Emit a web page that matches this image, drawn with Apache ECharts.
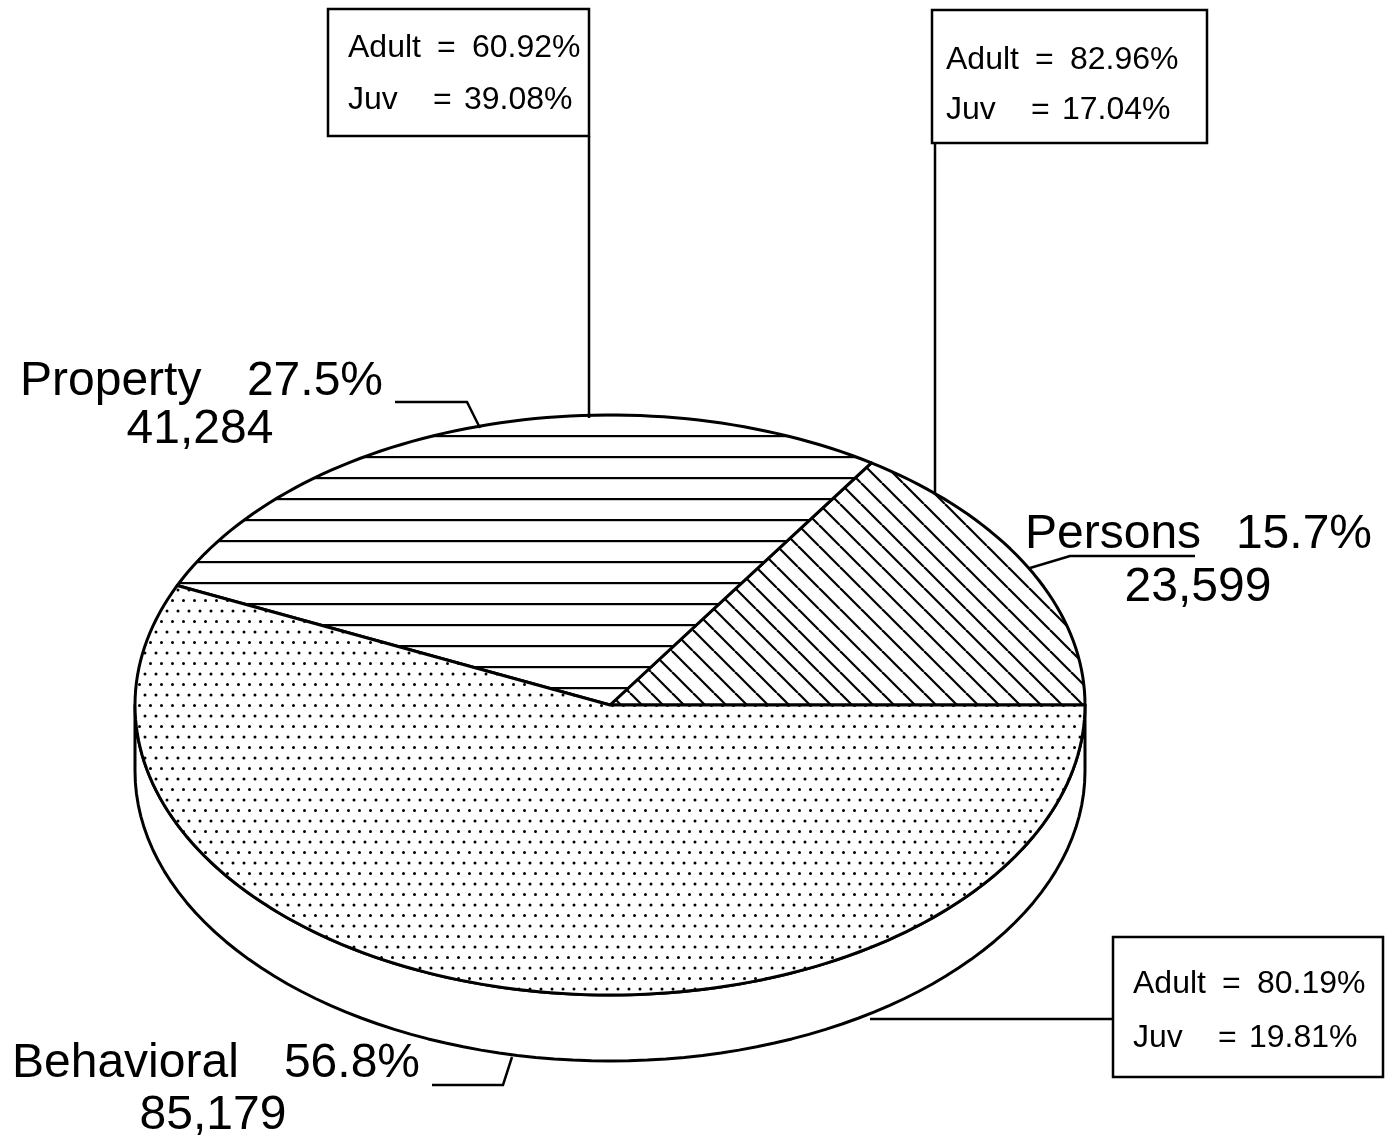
<!DOCTYPE html>
<html>
<head>
<meta charset="utf-8">
<script src="https://cdn.jsdelivr.net/npm/echarts@6/dist/echarts.min.js"></script>
<style>
html, body { margin: 0; padding: 0; background: #fff; }
#chart { width: 1389px; height: 1137px; }
</style>
</head>
<body>
<div id="chart"></div>
<script>
// 数据
var categories = ['Persons', 'Property', 'Behavioral'];
var counts = [23599, 41284, 85179];
var adultPct = [82.96, 60.92, 80.19];
var juvPct = [17.04, 39.08, 19.81];

// 椭圆饼图的位置 (像素 = 坐标轴单位)
var CX = 610, CY = 705, RX = 475, RY = 290, DEPTH = 66;
var FONT = '"Liberation Sans", Arial, Helvetica, sans-serif';

var total = counts.reduce(function (a, b) { return a + b; }, 0);

// 填充图案
var makeTile = function (w, h, draw) {
    var c = document.createElement('canvas');
    c.width = w;
    c.height = h;
    var ctx = c.getContext('2d');
    ctx.fillStyle = '#fff';
    ctx.fillRect(0, 0, w, h);
    ctx.fillStyle = '#000';
    ctx.strokeStyle = '#000';
    draw(ctx);
    return c;
};
var diagTile = makeTile(21, 21, function (ctx) {
    ctx.lineWidth = 2.2;
    for (var k = -1; k <= 1; k++) {
        ctx.beginPath();
        ctx.moveTo(k * 21, 0);
        ctx.lineTo(k * 21 + 21, 21);
        ctx.stroke();
    }
});
var lineTile = makeTile(8, 21, function (ctx) {
    ctx.fillRect(0, 15, 8, 2.2);
});
var dotTile = makeTile(11, 21, function (ctx) {
    ctx.beginPath();
    ctx.arc(2, 2, 1.5, 0, Math.PI * 2);
    ctx.arc(7.5, 12.5, 1.5, 0, Math.PI * 2);
    ctx.fill();
});
var fills = [diagTile, lineTile, dotTile];

// 标签和注释框的位置
var labelLayout = [
    {nameX: 1025, pctRight: 1372, y: 548, countX: 1198, countY: 601},
    {nameX: 20, pctRight: 383, y: 395, countX: 200, countY: 443},
    {nameX: 12, pctRight: 420, y: 1077, countX: 213, countY: 1129}
];
var boxLayout = [
    {x: 932, y: 10, w: 275, h: 133, tx: 946, y1: 67, y2: 117, line: [[935, 143], [935, 495]]},
    {x: 328, y: 9, w: 261, h: 127, tx: 348, y1: 55, y2: 107, line: [[589, 136], [589, 418]]},
    {x: 1113, y: 937, w: 270, h: 140, tx: 1133, y1: 991, y2: 1045, line: [[1113, 1019], [870, 1019]]}
];
var leaderLines = [
    [[1030, 568], [1070, 556], [1195, 556]],
    [[395, 402], [467, 402], [480, 428]],
    [[432, 1085], [503, 1085], [512, 1057]]
];

var ellipsePt = function (t, dy) {
    return [CX + RX * Math.cos(t), CY + dy - RY * Math.sin(t)];
};

var renderSlice = function (params, api) {
    var i = params.dataIndex;
    var before = 0;
    for (var j = 0; j < i; j++) before += counts[j];
    var a0 = before / total * Math.PI * 2;
    var a1 = (before + api.value(2)) / total * Math.PI * 2;
    var children = [];
    var n, k, t;

    // 前面的侧壁
    var w0 = Math.max(a0, Math.PI), w1 = a1;
    if (w1 > w0) {
        var side = [];
        n = 80;
        for (k = 0; k <= n; k++) {
            t = w0 + (w1 - w0) * k / n;
            side.push(api.coord(ellipsePt(t, 0)));
        }
        for (k = n; k >= 0; k--) {
            t = w0 + (w1 - w0) * k / n;
            side.push(api.coord(ellipsePt(t, DEPTH)));
        }
        children.push({
            type: 'polygon',
            shape: {points: side},
            style: {fill: '#fff', stroke: '#000', lineWidth: 3, lineJoin: 'round'}
        });
    }

    // 顶面
    var top = [api.coord([api.value(0), api.value(1)])];
    n = Math.max(8, Math.ceil((a1 - a0) * 40));
    for (k = 0; k <= n; k++) {
        t = a0 + (a1 - a0) * k / n;
        top.push(api.coord(ellipsePt(t, 0)));
    }
    children.push({
        type: 'polygon',
        shape: {points: top},
        style: {fill: {image: fills[i], repeat: 'repeat'}, stroke: '#000', lineWidth: 3, lineJoin: 'round'}
    });
    return {type: 'group', children: children};
};

var textEl = function (str, x, baseline, size, align) {
    return {
        type: 'text',
        style: {
            text: str,
            x: x,
            y: baseline - size * 0.35 + 4,
            font: size + 'px ' + FONT,
            fill: '#000',
            align: align || 'left',
            verticalAlign: 'middle'
        },
        z: 10
    };
};

var graphics = [];
categories.forEach(function (name, i) {
    var L = labelLayout[i];
    var pct = (counts[i] / total * 100).toFixed(1) + '%';
    graphics.push(textEl(name, L.nameX, L.y, 48));
    graphics.push(textEl(pct, L.pctRight, L.y, 48, 'right'));
    graphics.push(textEl(counts[i].toLocaleString('en-US'), L.countX, L.countY, 48, 'center'));
    graphics.push({
        type: 'polyline',
        shape: {points: leaderLines[i]},
        style: {stroke: '#000', lineWidth: 2.5, fill: null},
        z: 5
    });

    var B = boxLayout[i];
    graphics.push({
        type: 'rect',
        shape: {x: B.x, y: B.y, width: B.w, height: B.h},
        style: {fill: '#fff', stroke: '#000', lineWidth: 2.5},
        z: 5
    });
    graphics.push({
        type: 'polyline',
        shape: {points: B.line},
        style: {stroke: '#000', lineWidth: 2.5, fill: null},
        z: 5
    });
    graphics.push(textEl('Adult', B.tx, B.y1, 32));
    graphics.push(textEl('=', B.tx + 89, B.y1, 32));
    graphics.push(textEl(adultPct[i].toFixed(2) + '%', B.tx + 124, B.y1, 32));
    graphics.push(textEl('Juv', B.tx, B.y2, 32));
    graphics.push(textEl('=', B.tx + 85, B.y2, 32));
    graphics.push(textEl(juvPct[i].toFixed(2) + '%', B.tx + 116, B.y2, 32));
});

var myChart = echarts.init(document.getElementById('chart'), null, {renderer: 'canvas'});
var option = {
    backgroundColor: '#fff',
    animation: false,
    grid: {left: 0, right: 0, top: 0, bottom: 0},
    xAxis: {type: 'value', min: 0, max: 1389, show: false},
    yAxis: {type: 'value', min: 0, max: 1137, inverse: true, show: false},
    series: [
        {
            type: 'custom',
            clip: false,
            renderItem: renderSlice,
            encode: {x: 0, y: 1},
            data: counts.map(function (v, i) {
                return {name: categories[i], value: [CX, CY, v]};
            })
        }
    ],
    graphic: graphics
};
myChart.setOption(option);
</script>
</body>
</html>
